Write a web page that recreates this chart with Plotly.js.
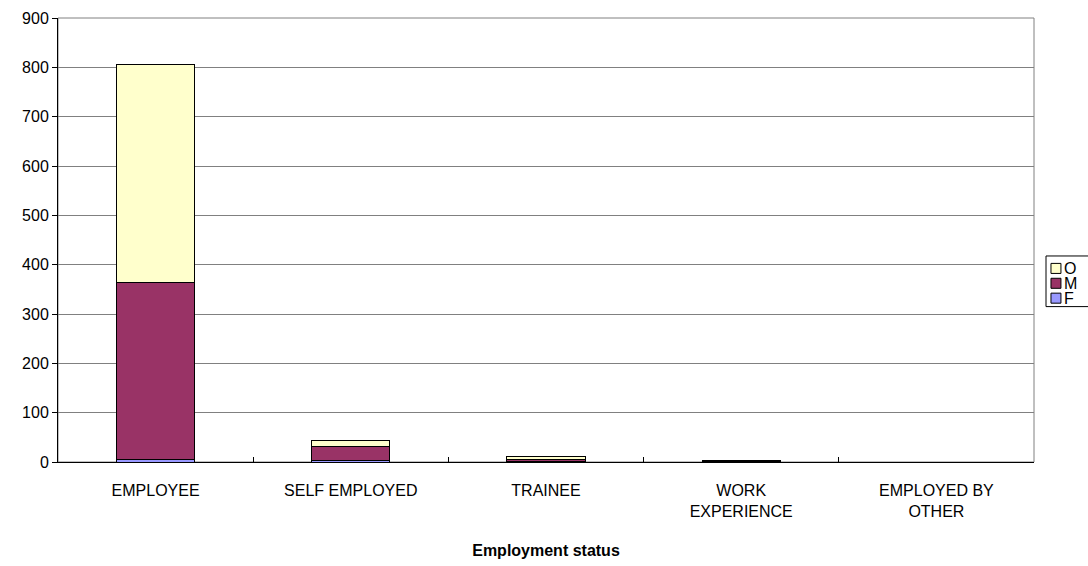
<!DOCTYPE html>
<html>
<head>
<meta charset="utf-8">
<script src="https://cdn.plot.ly/plotly-3.0.1.min.js"></script>
<style>html,body{margin:0;padding:0;background:#fff;}#chart{width:1088px;height:566px;}</style>
</head>
<body>
<div id="chart"></div>
<script>
var categories = ["EMPLOYEE", "SELF EMPLOYED", "TRAINEE", "WORK<br>EXPERIENCE", "EMPLOYED BY<br>OTHER"];
var seriesNames = ["F", "M", "O"];
var seriesColors = ["#9999FF", "#993366", "#FFFFCC"];
var valuesF = [6, 4, 1, 0, 0];
var valuesM = [357, 28, 5, 2, 0];
var valuesO = [442, 11, 6, 1, 0];
var yTicks = [0, 100, 200, 300, 400, 500, 600, 700, 800, 900];

var seriesValues = [valuesF, valuesM, valuesO];
var font = "'Liberation Sans', Arial, sans-serif";

var traces = seriesNames.map(function (name, i) {
  return {
    type: "bar",
    name: name,
    x: categories,
    y: seriesValues[i],
    marker: { color: seriesColors[i], line: { color: "#000000", width: 1 } },
    showlegend: false
  };
});

// custom legend (Excel style), entries listed top-down O, M, F
var shapes = [
  { type: "rect", xref: "paper", yref: "paper", x0: 0, x1: 1, y0: 0, y1: 1,
    line: { color: "#808080", width: 1 }, layer: "below" },
  { type: "rect", xref: "paper", yref: "paper", x0: 1.0123, x1: 1.08, y0: 0.35, y1: 0.464,
    line: { color: "#000000", width: 1 }, fillcolor: "rgba(0,0,0,0)" }
];
var annotations = [];
var legendTop = 0.436, legendStep = 0.0335;
for (var k = 0; k < seriesNames.length; k++) {
  var idx = seriesNames.length - 1 - k;
  var yc = legendTop - k * legendStep;
  shapes.push({ type: "rect", xref: "paper", yref: "paper",
    x0: 1.0174, x1: 1.0276, y0: yc - 0.0113, y1: yc + 0.0113,
    line: { color: "#000000", width: 1 }, fillcolor: seriesColors[idx] });
  annotations.push({ xref: "paper", yref: "paper", x: 1.0287, y: yc, xanchor: "left", yanchor: "middle",
    text: seriesNames[idx], showarrow: false, font: { family: font, size: 16, color: "#000" } });
}

var layout = {
  width: 1088, height: 566,
  margin: { l: 58, r: 54, t: 18, b: 104, pad: 0 },
  paper_bgcolor: "#ffffff", plot_bgcolor: "#ffffff",
  barmode: "stack", bargap: 0.6,
  font: { family: font, size: 16, color: "#000000" },
  showlegend: false,
  xaxis: {
    type: "category",
    title: { text: "<b>Employment status</b>", font: { family: font, size: 16, color: "#000" }, standoff: 25 },
    showline: true, linecolor: "#000000", linewidth: 1,
    ticks: "inside", tickson: "boundaries", ticklen: 5, tickcolor: "#000000",
    ticklabelstandoff: 14,
    showgrid: false, zeroline: false,
    tickfont: { family: font, size: 16, color: "#000" }
  },
  yaxis: {
    range: [0, 900], tickvals: yTicks, ticktext: yTicks.map(String),
    showline: true, linecolor: "#000000", linewidth: 1,
    ticks: "outside", ticklen: 5, tickcolor: "#000000",
    showgrid: true, gridcolor: "#808080", gridwidth: 1,
    zeroline: false,
    tickfont: { family: font, size: 16, color: "#000" }
  },
  shapes: shapes,
  annotations: annotations
};

Plotly.newPlot("chart", traces, layout, { displayModeBar: false, staticPlot: true });
</script>
</body>
</html>
